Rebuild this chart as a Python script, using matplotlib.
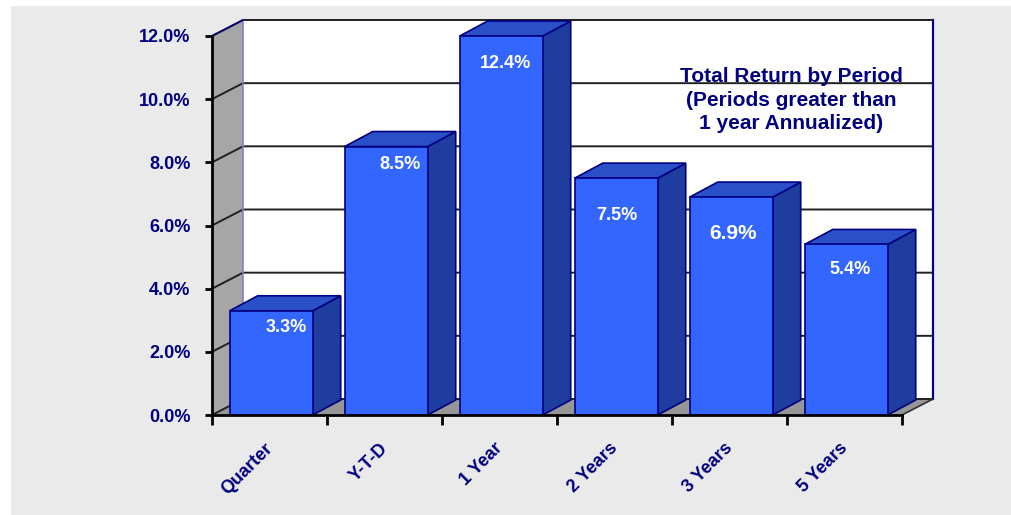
import matplotlib
matplotlib.use("Agg")
import matplotlib.pyplot as plt
from matplotlib.patches import Polygon, Rectangle
from matplotlib.ticker import FuncFormatter
import matplotlib.transforms as mtransforms

# ---- data ----
categories = ["Quarter", "Y-T-D", "1 Year", "2 Years", "3 Years", "5 Years"]
returns_pct = [3.3, 8.5, 12.4, 7.5, 6.9, 5.4]
value_labels = ["3.3%", "8.5%", "12.4%", "7.5%", "6.9%", "5.4%"]
y_ticks = [0, 2, 4, 6, 8, 10, 12]
title_lines = ["Total Return by Period", "(Periods greater than", "1 year Annualized)"]

# ---- styling / layout ----
W, H, DPI = 1011, 515, 100
NAVY = "#000080"
FRONT = "#3366ff"
TOP = "#2a50c8"
SIDE = "#1f3d9e"
label_offsets_px = [(15, 17), (14, 18), (4, 28), (1, 37), (2, 36), (4, 25)]
label_sizes = [13, 13, 13, 13, 15, 13]

plt.rcParams["font.family"] = ["Liberation Sans", "DejaVu Sans"]
plt.rcParams["font.weight"] = "bold"

fig = plt.figure(figsize=(W / DPI, H / DPI), dpi=DPI, facecolor="white")
fig.patches.append(Rectangle((11 / W, 0), 1 - 11 / W, 1 - 6 / H,
                             transform=fig.transFigure, facecolor="#eaeaea",
                             edgecolor="none", zorder=-10))

# front plane of the axes: x 212..902 px, y 36..415 px (from top)
ax = fig.add_axes([212 / W, (H - 415) / H, 690 / W, 379 / H])
ax.set_facecolor("none")
n = len(categories)
ax.set_xlim(-0.5, n - 0.5)
ax.set_ylim(0, 12)

px_x = 690 / n          # pixels per category
px_y = 379 / 12         # pixels per percent
ddx = 31 / px_x         # wall depth in data units
ddy = 16 / px_y
bdx = 28 / px_x         # bar depth
bdy = 15 / px_y
bw = 83 / px_x          # bar width
xL, xR, ymax = -0.5, n - 0.5, 12

# side wall
ax.add_patch(Polygon([(xL, 0), (xL, ymax), (xL + ddx, ymax + ddy), (xL + ddx, ddy)],
                     closed=True, facecolor="#a6a6a6", edgecolor="none",
                     clip_on=False, zorder=1))
# back wall
ax.add_patch(Rectangle((xL + ddx, ddy), xR - xL, ymax, facecolor="white",
                       edgecolor="none", clip_on=False, zorder=1))
# floor
ax.add_patch(Polygon([(xL, 0), (xL + ddx, ddy), (xR + ddx, ddy), (xR, 0)],
                     closed=True, facecolor="#969696", edgecolor="none",
                     clip_on=False, zorder=1))
# gridlines (side + back)
for v in y_ticks:
    ax.plot([xL, xL + ddx, xR + ddx], [v, v + ddy, v + ddy], color="#202020",
            lw=1.4, clip_on=False, zorder=2)
# wall edges
ax.plot([xL + ddx, xL + ddx], [ddy, ymax + ddy], color="#8080c8", lw=1.2,
        clip_on=False, zorder=2)
ax.plot([xL, xL + ddx], [ymax, ymax + ddy], color=NAVY, lw=1.2, clip_on=False, zorder=2)
ax.plot([xR + ddx, xR + ddx], [ddy, ymax + ddy], color=NAVY, lw=1.6,
        clip_on=False, zorder=2)
ax.plot([xR, xR + ddx], [0, ddy], color="#303030", lw=1.2, clip_on=False, zorder=2)

# bars (clipped at the axis maximum, as in the original 3-D chart)
for i, val in enumerate(returns_pct):
    v = min(val, ymax)
    x0, x1 = i - bw / 2 + 0.015, i + bw / 2 + 0.015
    kw = dict(closed=True, edgecolor=NAVY, lw=1.2, clip_on=False, zorder=3)
    ax.add_patch(Polygon([(x1, 0), (x1 + bdx, bdy), (x1 + bdx, v + bdy), (x1, v)],
                         facecolor=SIDE, **kw))
    ax.add_patch(Polygon([(x0, v), (x0 + bdx, v + bdy), (x1 + bdx, v + bdy), (x1, v)],
                         facecolor=TOP, **kw))
    ax.add_patch(Polygon([(x0, 0), (x0, v), (x1, v), (x1, 0)],
                         facecolor=FRONT, **kw))
    ox, oy = label_offsets_px[i]
    ax.annotate(value_labels[i], xy=((x0 + x1) / 2, v),
                xytext=(ox * 72 / DPI, -oy * 72 / DPI), textcoords="offset points",
                ha="center", va="center", color="white", fontsize=label_sizes[i],
                fontweight="bold", zorder=5, annotation_clip=False)

# axes, ticks, labels
for s in ["top", "right"]:
    ax.spines[s].set_visible(False)
for s in ["left", "bottom"]:
    ax.spines[s].set_color("black")
    ax.spines[s].set_linewidth(2)
    ax.spines[s].set_zorder(6)
ax.set_yticks(y_ticks)
ax.yaxis.set_major_formatter(FuncFormatter(lambda v, p: f"{v:.1f}%"))
ax.tick_params(axis="y", length=5, width=2, color="black", pad=10.5,
               labelsize=13, labelcolor=NAVY)
ax.set_xticks([i - 0.5 for i in range(n + 1)])
ax.set_xticklabels([])
ax.set_xticks(range(n), minor=True)
ax.set_xticklabels(categories, minor=True, rotation=45, ha="right", va="top",
                   fontsize=13, color=NAVY, fontweight="bold")
ax.tick_params(axis="x", which="major", length=7, width=2, color="black")
ax.tick_params(axis="x", which="minor", length=0, pad=18)
for lbl in ax.get_yticklabels():
    lbl.set_fontweight("bold")
shift = mtransforms.ScaledTranslation(7 / DPI, 0, fig.dpi_scale_trans)
for lbl in ax.xaxis.get_minorticklabels():
    lbl.set_transform(lbl.get_transform() + shift)

fig.text(791 / W, 1 - 100 / H, "\n".join(title_lines), ha="center", va="center",
         fontsize=15, fontweight="bold", color=NAVY, linespacing=1.32)

fig.savefig("out.png", dpi=DPI)
